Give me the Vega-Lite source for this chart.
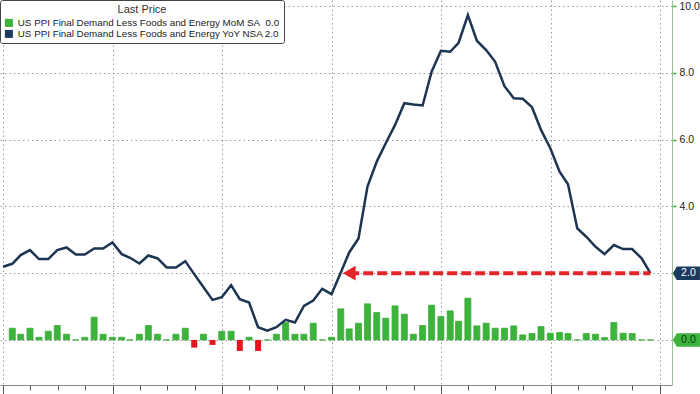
{
  "$schema": "https://vega.github.io/schema/vega-lite/v6.json",
  "width": 672,
  "height": 385,
  "autosize": {"type": "none"},
  "padding": {"left": 0, "top": 0, "right": 28, "bottom": 9},
  "background": "white",
  "config": {"view": {"stroke": null}, "font": "Liberation Sans"},
  "datasets": {
    "ppi": [
      {"date": "2017-12-31", "mom": null, "yoy": 2.19},
      {"date": "2018-01-31", "mom": 0.35, "yoy": 2.28},
      {"date": "2018-02-28", "mom": 0.17, "yoy": 2.54},
      {"date": "2018-03-31", "mom": 0.35, "yoy": 2.69},
      {"date": "2018-04-30", "mom": 0.08, "yoy": 2.42},
      {"date": "2018-05-31", "mom": 0.26, "yoy": 2.42},
      {"date": "2018-06-30", "mom": 0.43, "yoy": 2.69},
      {"date": "2018-07-31", "mom": 0.17, "yoy": 2.77},
      {"date": "2018-08-31", "mom": 0.0, "yoy": 2.56},
      {"date": "2018-09-30", "mom": 0.08, "yoy": 2.56},
      {"date": "2018-10-31", "mom": 0.68, "yoy": 2.74},
      {"date": "2018-11-30", "mom": 0.17, "yoy": 2.74},
      {"date": "2018-12-31", "mom": 0.08, "yoy": 2.92},
      {"date": "2019-01-31", "mom": 0.08, "yoy": 2.57},
      {"date": "2019-02-28", "mom": 0.0, "yoy": 2.46},
      {"date": "2019-03-31", "mom": 0.17, "yoy": 2.29},
      {"date": "2019-04-30", "mom": 0.43, "yoy": 2.53},
      {"date": "2019-05-31", "mom": 0.17, "yoy": 2.44},
      {"date": "2019-06-30", "mom": 0.0, "yoy": 2.17},
      {"date": "2019-07-31", "mom": 0.17, "yoy": 2.17},
      {"date": "2019-08-31", "mom": 0.35, "yoy": 2.36},
      {"date": "2019-09-30", "mom": -0.23, "yoy": 1.97},
      {"date": "2019-10-31", "mom": 0.17, "yoy": 1.58},
      {"date": "2019-11-30", "mom": -0.15, "yoy": 1.2},
      {"date": "2019-12-31", "mom": 0.26, "yoy": 1.28},
      {"date": "2020-01-31", "mom": 0.26, "yoy": 1.64},
      {"date": "2020-02-29", "mom": -0.33, "yoy": 1.22},
      {"date": "2020-03-31", "mom": 0.08, "yoy": 1.12},
      {"date": "2020-04-30", "mom": -0.33, "yoy": 0.38},
      {"date": "2020-05-31", "mom": 0.0, "yoy": 0.28},
      {"date": "2020-06-30", "mom": 0.17, "yoy": 0.38},
      {"date": "2020-07-31", "mom": 0.52, "yoy": 0.6},
      {"date": "2020-08-31", "mom": 0.17, "yoy": 0.52},
      {"date": "2020-09-30", "mom": 0.17, "yoy": 1.02},
      {"date": "2020-10-31", "mom": 0.5, "yoy": 1.18},
      {"date": "2020-11-30", "mom": 0.0, "yoy": 1.53},
      {"date": "2020-12-31", "mom": 0.08, "yoy": 1.37},
      {"date": "2021-01-31", "mom": 0.93, "yoy": 2.02},
      {"date": "2021-02-28", "mom": 0.33, "yoy": 2.62},
      {"date": "2021-03-31", "mom": 0.5, "yoy": 3.04},
      {"date": "2021-04-30", "mom": 1.08, "yoy": 4.59},
      {"date": "2021-05-31", "mom": 0.82, "yoy": 5.34},
      {"date": "2021-06-30", "mom": 0.65, "yoy": 5.89},
      {"date": "2021-07-31", "mom": 1.02, "yoy": 6.44},
      {"date": "2021-08-31", "mom": 0.77, "yoy": 7.09},
      {"date": "2021-09-30", "mom": 0.17, "yoy": 7.05},
      {"date": "2021-10-31", "mom": 0.43, "yoy": 7.02},
      {"date": "2021-11-30", "mom": 1.04, "yoy": 8.03},
      {"date": "2021-12-31", "mom": 0.7, "yoy": 8.66},
      {"date": "2022-01-31", "mom": 0.87, "yoy": 8.63},
      {"date": "2022-02-28", "mom": 0.56, "yoy": 8.9},
      {"date": "2022-03-31", "mom": 1.25, "yoy": 9.73},
      {"date": "2022-04-30", "mom": 0.42, "yoy": 8.96},
      {"date": "2022-05-31", "mom": 0.5, "yoy": 8.68},
      {"date": "2022-06-30", "mom": 0.35, "yoy": 8.33},
      {"date": "2022-07-31", "mom": 0.35, "yoy": 7.6},
      {"date": "2022-08-31", "mom": 0.42, "yoy": 7.24},
      {"date": "2022-09-30", "mom": 0.15, "yoy": 7.22},
      {"date": "2022-10-31", "mom": 0.19, "yoy": 6.97},
      {"date": "2022-11-30", "mom": 0.4, "yoy": 6.29},
      {"date": "2022-12-31", "mom": 0.2, "yoy": 5.74},
      {"date": "2023-01-31", "mom": 0.22, "yoy": 5.04},
      {"date": "2023-02-28", "mom": 0.19, "yoy": 4.66},
      {"date": "2023-03-31", "mom": 0.0, "yoy": 3.34},
      {"date": "2023-04-30", "mom": 0.19, "yoy": 3.09},
      {"date": "2023-05-31", "mom": 0.17, "yoy": 2.79},
      {"date": "2023-06-30", "mom": 0.07, "yoy": 2.57},
      {"date": "2023-07-31", "mom": 0.52, "yoy": 2.84},
      {"date": "2023-08-31", "mom": 0.2, "yoy": 2.72},
      {"date": "2023-09-30", "mom": 0.19, "yoy": 2.72},
      {"date": "2023-10-31", "mom": 0.0, "yoy": 2.45},
      {"date": "2023-11-30", "mom": 0.0, "yoy": 2.0}
    ],
    "arrow": [{"start": "2021-02-28", "end": "2023-11-30", "level": 2.0}],
    "tags": [
      {"date": "2023-11-30", "value": 2.0, "label": "2.0"},
      {"date": "2023-11-30", "value": 0.0, "label": "0.0"}
    ]
  },
  "layer": [
    {
      "data": {"name": "ppi"},
      "transform": [{"filter": "isValid(datum.mom) && datum.mom >= 0"}],
      "mark": {"type": "bar", "width": 6, "stroke": "#38ab38", "strokeWidth": 0.8},
      "encoding": {
        "x": {
          "field": "date", "type": "temporal",
          "scale": {"type": "utc", "nice": false, "padding": 0, "domain": [{"year": 2017, "month": 12, "date": 21, "utc": true}, {"year": 2024, "month": 2, "date": 10, "utc": true}]},
          "axis": {
            "title": null, "labels": false,
            "tickCount": {"interval": "month", "step": 3},
            "tickSize": {"condition": {"test": "utcmonth(datum.value) == 0", "value": 10}, "value": 5},
            "tickColor": "#555", "domainColor": "#888",
            "grid": true, "gridColor": "#999", "gridDash": [1.5, 3],
            "gridOpacity": {"condition": {"test": "utcmonth(datum.value) == 0", "value": 1}, "value": 0}
          }
        },
        "y": {
          "field": "mom", "type": "quantitative",
          "scale": {"domain": [-1.35, 10.18], "nice": false, "zero": false, "padding": 0},
          "axis": {
            "orient": "right", "title": null,
            "values": [0, 2, 4, 6, 8, 10],
            "format": ".1f",
            "labelExpr": "datum.value >= 4 ? datum.label : ''",
            "labelOverlap": false,
            "labelFontSize": 10.5, "labelColor": "#222", "labelPadding": 3,
            "domain": true, "domainColor": "#9cbf96", "domainWidth": 1,
            "ticks": true, "tickSize": 4, "tickColor": "#3bb33b", "tickWidth": 1.5,
            "grid": true, "gridColor": "#999", "gridDash": [1.5, 3], "gridOpacity": 1
          }
        },
        "y2": {"datum": 0},
        "color": {
          "datum": "US PPI Final Demand Less Foods and Energy MoM SA\u00a0\u00a00.0",
          "scale": {
            "domain": ["US PPI Final Demand Less Foods and Energy MoM SA\u00a0\u00a00.0", "US PPI Final Demand Less Foods and Energy YoY NSA 2.0"],
            "range": ["#3cb43c", "#1c3a5e"]
          },
          "legend": {
            "orient": "none", "legendX": 0, "legendY": 0,
            "title": "Last Price", "titleAnchor": "middle", "titleFontWeight": "normal",
            "titleFontSize": 11, "titleColor": "#333",
            "labelFontSize": 9.8, "labelColor": "#222", "labelLimit": 400,
            "symbolType": "square", "symbolSize": 64, "symbolStrokeWidth": 0,
            "strokeColor": "#444", "fillColor": "white", "padding": 4, "rowPadding": 0, "titlePadding": 3, "cornerRadius": 2
          }
        }
      }
    },
    {
      "data": {"name": "ppi"},
      "transform": [{"filter": "isValid(datum.mom) && datum.mom < 0"}],
      "mark": {"type": "bar", "width": 6, "color": "#e3151c"},
      "encoding": {
        "x": {"field": "date", "type": "temporal"},
        "y": {"field": "mom", "type": "quantitative"},
        "y2": {"datum": 0}
      }
    },
    {
      "data": {"name": "ppi"},
      "mark": {"type": "line", "color": "#1c3553", "strokeWidth": 2.5},
      "encoding": {
        "x": {"field": "date", "type": "temporal"},
        "y": {"field": "yoy", "type": "quantitative"}
      }
    },
    {
      "data": {"name": "arrow"},
      "mark": {"type": "rule", "color": "#e3242b", "strokeWidth": 4, "strokeDash": [10, 4]},
      "encoding": {
        "x": {"field": "start", "type": "temporal"},
        "x2": {"field": "end"},
        "y": {"field": "level", "type": "quantitative"}
      }
    },
    {
      "data": {"name": "arrow"},
      "mark": {"type": "point", "shape": "triangle-left", "filled": true, "size": 220, "color": "#e3242b", "opacity": 1},
      "encoding": {
        "x": {"field": "start", "type": "temporal"},
        "y": {"field": "level", "type": "quantitative"}
      }
    },
    {
      "data": {"name": "tags"},
      "mark": {"type": "point", "shape": "M -1,0 L -0.72,-0.5 L 1,-0.5 L 1,0.5 L -0.72,0.5 Z", "filled": true, "size": 729, "opacity": 1, "xOffset": 36},
      "encoding": {
        "x": {"field": "date", "type": "temporal"},
        "y": {"field": "value", "type": "quantitative"},
        "color": {"condition": {"test": "datum.value > 1", "value": "#1c3a5e"}, "value": "#3cb43c"}
      }
    },
    {
      "data": {"name": "tags"},
      "mark": {"type": "text", "fontSize": 10.5, "xOffset": 38, "align": "center", "baseline": "middle"},
      "encoding": {
        "x": {"field": "date", "type": "temporal"},
        "y": {"field": "value", "type": "quantitative"},
        "text": {"field": "label"},
        "color": {"condition": {"test": "datum.value > 1", "value": "#ffffff"}, "value": "#123312"}
      }
    }
  ]
}
